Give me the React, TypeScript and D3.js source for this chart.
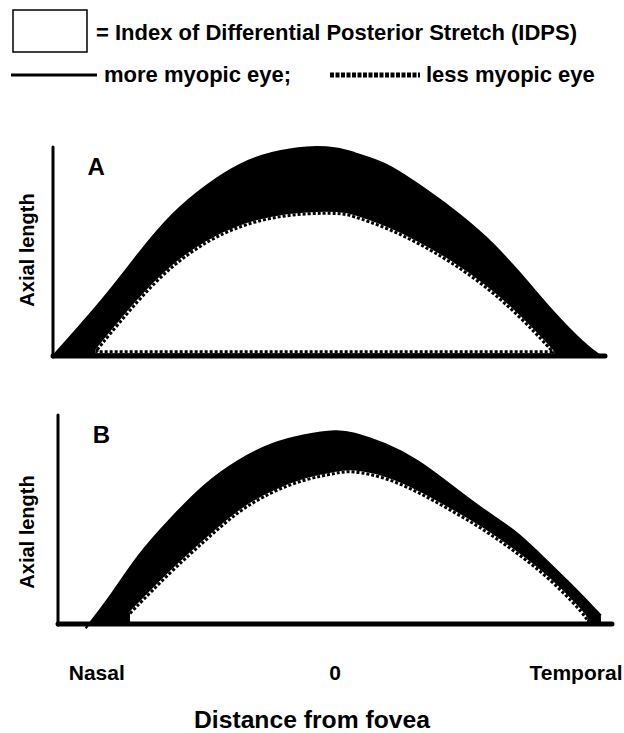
import React from 'react';
import * as d3 from 'd3';

// distance from fovea (-1 = nasal edge, 1 = temporal edge), axial length (0..1)
const aMoreX = [-1, -0.81, -0.69, -0.57, -0.44, -0.32, -0.21, -0.08, 0.04, 0.08, 0.21, 0.32, 0.44, 0.57, 0.69, 0.81, 0.93, 0.985];
const aMoreY = [0, 0.28, 0.49, 0.68, 0.82, 0.92, 0.97, 1.0, 0.99, 0.97, 0.92, 0.82, 0.71, 0.57, 0.40, 0.21, 0.05, 0];
const aLessX = [-0.84, -0.69, -0.57, -0.44, -0.32, -0.21, -0.08, 0.04, 0.08, 0.21, 0.32, 0.44, 0.57, 0.69, 0.805, 0.81];
const aLessY = [0.03, 0.27, 0.43, 0.55, 0.62, 0.66, 0.68, 0.68, 0.67, 0.61, 0.54, 0.45, 0.33, 0.19, 0.03, 0.02];
const aLessBase = 0.02;

const bMoreX = [-0.9, -0.82, -0.71, -0.59, -0.47, -0.35, -0.23, -0.11, 0.01, 0.06, 0.18, 0.30, 0.41, 0.53, 0.65, 0.73, 0.85, 0.96];
const bMoreY = [-0.02, 0.11, 0.33, 0.50, 0.66, 0.77, 0.85, 0.89, 0.91, 0.90, 0.85, 0.77, 0.66, 0.54, 0.44, 0.34, 0.19, 0.04];
const bLessX = [-0.74, -0.59, -0.47, -0.35, -0.23, -0.11, 0.01, 0.06, 0.18, 0.30, 0.41, 0.53, 0.65, 0.77, 0.89, 0.91];
const bLessY = [0.05, 0.25, 0.39, 0.53, 0.62, 0.68, 0.71, 0.72, 0.69, 0.62, 0.54, 0.45, 0.34, 0.22, 0.06, 0.02];

const xLabels = ['Nasal', '0', 'Temporal'];
const xLabelPos = [-0.86, 0.0, 0.87];

const FONT = '"Liberation Sans", Arial, sans-serif';

type Pt = [number, number];
const zip = (xs: number[], ys: number[]): Pt[] => xs.map((x, i) => [x, ys[i]]);

function Panel({ label, more, less, lessBase, xr, yr, yTop, labelY }: {
  label: string; more: Pt[]; less: Pt[]; lessBase: number | null;
  xr: [number, number]; yr: [number, number]; yTop: number; labelY: number;
}) {
  const x = d3.scaleLinear().domain([-1, 1]).range(xr);
  const y = d3.scaleLinear().domain([0, 1]).range(yr);
  const curve = d3.curveBasis;

  const area = d3.area<Pt>().x(d => x(d[0])).y0(y(0)).y1(d => y(d[1])).curve(curve);
  const lessBottom = lessBase == null ? 0 : lessBase;
  const lessArea = d3.area<Pt>().x(d => x(d[0])).y0(y(lessBottom)).y1(d => y(d[1])).curve(curve);
  const line = d3.line<Pt>().x(d => x(d[0])).y(d => y(d[1])).curve(curve);

  let lessPath = line(less) || '';
  if (lessBase != null) {
    lessPath += `L${x(less[0][0])},${y(lessBase)}Z`;
  }

  return (
    <g>
      <path d={area(more) || ''} fill="#000" />
      <path d={line(more) || ''} fill="none" stroke="#000" strokeWidth={2} />
      <path d={lessArea(less) || ''} fill="#fff" />
      <path d={lessPath} fill="none" stroke="#fff" strokeWidth={3} />
      <path d={lessPath} fill="none" stroke="#000" strokeWidth={3} strokeDasharray="3 2" />
      <line x1={xr[0]} x2={xr[0]} y1={y(0) + 1} y2={yTop} stroke="#000" strokeWidth={3} strokeLinecap="round" />
      <line x1={xr[0]} x2={xr[1]} y1={y(0)} y2={y(0)} stroke="#000" strokeWidth={5} strokeLinecap="round" />
      <text x={x(-0.875)} y={yTop + 28} fontSize={24} fontWeight="bold" fontFamily={FONT}>{label}</text>
      <text transform={`translate(34,${labelY}) rotate(-90)`} textAnchor="middle"
        fontSize={20} fontWeight="bold" fontFamily={FONT}>Axial length</text>
    </g>
  );
}

export default function App() {
  const xBottom = d3.scaleLinear().domain([-1, 1]).range([58, 612]);
  return (
    <svg width={624} height={733} style={{ position: 'absolute', left: 0, top: 0, background: '#fff' }}>
      <rect x={13} y={10} width={74} height={42} fill="#fff" stroke="#000" strokeWidth={1.5} />
      <text x={96} y={40} fontSize={22} fontWeight="bold" fontFamily={FONT}>= Index of Differential Posterior Stretch (IDPS)</text>
      <line x1={11} x2={97} y1={75} y2={75} stroke="#000" strokeWidth={3} />
      <text x={104} y={82} fontSize={22} fontWeight="bold" fontFamily={FONT}>more myopic eye;</text>
      <line x1={330} x2={420} y1={75} y2={75} stroke="#000" strokeWidth={5} strokeDasharray="4 1.5" />
      <text x={426} y={82} fontSize={22} fontWeight="bold" fontFamily={FONT}>less myopic eye</text>

      <Panel label="A" more={zip(aMoreX, aMoreY)} less={zip(aLessX, aLessY)} lessBase={aLessBase}
        xr={[53, 605]} yr={[356, 146]} yTop={147} labelY={250} />
      <Panel label="B" more={zip(bMoreX, bMoreY)} less={zip(bLessX, bLessY)} lessBase={null}
        xr={[58, 612]} yr={[624, 411]} yTop={415} labelY={532} />

      {xLabels.map((t, i) => (
        <text key={t} x={xBottom(xLabelPos[i])} y={680} textAnchor="middle" fontSize={21}
          fontWeight="bold" fontFamily={FONT}>{t}</text>
      ))}
      <text x={312} y={728} textAnchor="middle" fontSize={23} fontWeight="bold" fontFamily={FONT}
        textLength={236} lengthAdjust="spacingAndGlyphs">Distance from fovea</text>
    </svg>
  );
}
